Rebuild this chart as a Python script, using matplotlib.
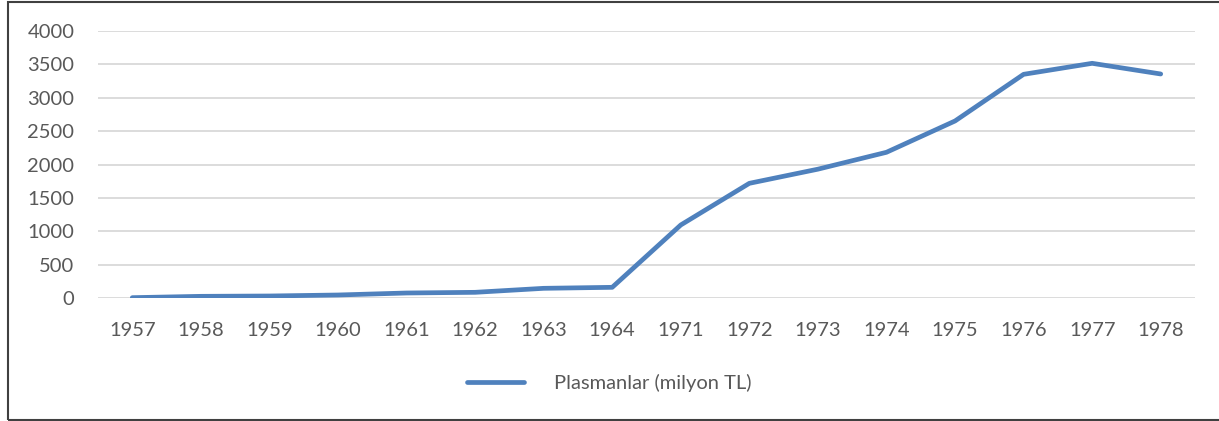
import matplotlib
matplotlib.use("Agg")
import matplotlib.pyplot as plt
from matplotlib.patches import Rectangle

years = ["1957", "1958", "1959", "1960", "1961", "1962", "1963", "1964",
         "1971", "1972", "1973", "1974", "1975", "1976", "1977", "1978"]
values = [5, 25, 30, 45, 75, 85, 145, 160,
          1094, 1718, 1930, 2183, 2652, 3351, 3516, 3356]
yticks = [0, 500, 1000, 1500, 2000, 2500, 3000, 3500, 4000]
series_name = "Plasmanlar (milyon TL)"

W, H = 1219, 421
fig = plt.figure(figsize=(W / 100, H / 100), dpi=100)
font = ["Lato", "DejaVu Sans"]
grey = "#595959"
blue = "#4F81BD"
fs = 14.5

ax = fig.add_axes([98 / W, 1 - 298 / H, (1195 - 98) / W, (298 - 31) / H])
x = list(range(len(years)))
ax.plot(x, values, color=blue, lw=3.4, solid_capstyle="round", solid_joinstyle="round", zorder=3)
ax.set_xlim(-0.5, len(years) - 0.5)
ax.set_ylim(0, 4000)
ax.set_yticks(yticks)
ax.set_xticks(x)
ax.set_xticklabels(years)
for s in ax.spines.values():
    s.set_visible(False)
ax.grid(axis="y", color="#D9D9D9", lw=1.3)
ax.set_axisbelow(True)
ax.tick_params(axis="both", length=0, labelcolor=grey, labelsize=fs)
ax.tick_params(axis="y", pad=17)
ax.tick_params(axis="x", pad=17)
for lab in ax.get_xticklabels() + ax.get_yticklabels():
    lab.set_fontfamily(font)

leg = fig.legend([ax.lines[0]], [series_name], loc="center left", bbox_to_anchor=(449 / W, 1 - 383 / H),
                 frameon=False, handlelength=2.8, handletextpad=1.5,
                 prop={"family": font, "size": fs})
for t in leg.get_texts():
    t.set_color(grey)

fig.patches.append(Rectangle((8 / W, 1.5 / H), (1240 - 8) / W, (419.5 - 1.5) / H, transform=fig.transFigure,
                             fill=False, edgecolor="#404040", lw=1.5, clip_on=False))

fig.savefig("out.png", dpi=100)
